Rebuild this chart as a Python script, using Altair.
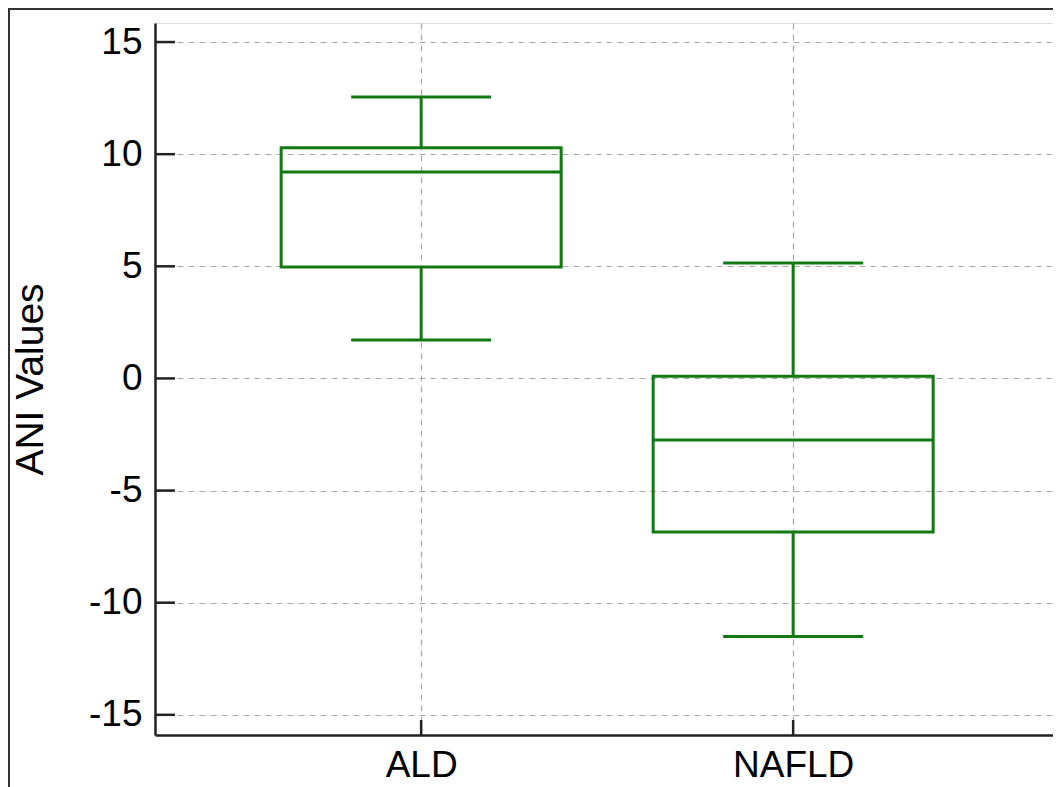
import altair as alt
import pandas as pd

groups = ["ALD", "NAFLD"]
lower = [1.71, -11.51]
q1 = [4.97, -6.85]
median = [9.21, -2.75]
q3 = [10.29, 0.10]
upper = [12.55, 5.15]
y_ticks = [-15, -10, -5, 0, 5, 10, 15]

df = pd.DataFrame({"group": groups, "lower": lower, "q1": q1,
                   "median": median, "q3": q3, "upper": upper})
tick_df = pd.DataFrame({"v": y_ticks})

GREEN = "#137a13"
DARK = "#222222"
W, H = 898, 712
PB = 56

xscale = alt.Scale(type="point", domain=groups, padding=0.707, align=0.506)
yscale = alt.Scale(domain=[-15.9, 15.85], nice=False, zero=False)

x_enc = alt.X("group:N", scale=xscale, sort=groups,
              axis=alt.Axis(title=None, labelAngle=0, labelFontSize=37, labelColor="black",
                            labelPadding=12, tickSize=0, domainColor=DARK, domainWidth=2.5,
                            grid=True, gridDash=[6, 5], gridColor="#a8a8a8", gridWidth=1.2))
y_axis = alt.Axis(title="ANI Values", values=y_ticks, labelFontSize=37, labelColor="black",
                  labelExpr="'' + datum.value",
                  labelPadding=13, tickSize=0, domainColor=DARK, domainWidth=2.5,
                  grid=True, gridDash=[6, 5], gridColor="#a8a8a8", gridWidth=1.2,
                  titleFontSize=39, titleFontWeight="normal", titleColor="black",
                  titleAngle=-90, titleX=-125, titleY=H / 2, titleAlign="center",
                  titleBaseline="middle")

base = alt.Chart(df)

box = base.mark_bar(size=280, fill="white", fillOpacity=0, stroke=GREEN, strokeWidth=3,
                    opacity=1).encode(
    x=x_enc,
    y=alt.Y("q1:Q", scale=yscale, axis=y_axis),
    y2="q3:Q",
)
whisk_lo = base.mark_rule(color=GREEN, strokeWidth=3, opacity=1).encode(
    x=alt.X("group:N", scale=xscale), y=alt.Y("lower:Q", scale=yscale), y2="q1:Q")
whisk_hi = base.mark_rule(color=GREEN, strokeWidth=3, opacity=1).encode(
    x=alt.X("group:N", scale=xscale), y=alt.Y("q3:Q", scale=yscale), y2="upper:Q")
med = base.mark_tick(size=280, thickness=3, color=GREEN, opacity=1, orient="horizontal").encode(
    x=alt.X("group:N", scale=xscale), y=alt.Y("median:Q", scale=yscale))
cap_lo = base.mark_tick(size=140, thickness=3, color=GREEN, opacity=1, orient="horizontal").encode(
    x=alt.X("group:N", scale=xscale), y=alt.Y("lower:Q", scale=yscale))
cap_hi = base.mark_tick(size=140, thickness=3, color=GREEN, opacity=1, orient="horizontal").encode(
    x=alt.X("group:N", scale=xscale), y=alt.Y("upper:Q", scale=yscale))

# inward y ticks
yt = alt.Chart(tick_df).mark_rule(color=DARK, strokeWidth=2.5).encode(
    y=alt.Y("v:Q", scale=yscale), x=alt.value(0), x2=alt.value(20))
# upward x ticks
xt = base.mark_rule(color=DARK, strokeWidth=2.5).encode(
    x=alt.X("group:N", scale=xscale), y=alt.value(H), y2=alt.value(H - 15))

# picture frame (left and top)
frame_l = alt.Chart(pd.DataFrame({"a": [0]})).mark_rule(color="#333333", strokeWidth=2).encode(
    x=alt.value(-146), y=alt.value(-15), y2=alt.value(H + PB))
frame_t = alt.Chart(pd.DataFrame({"a": [0]})).mark_rule(color="#333333", strokeWidth=2).encode(
    y=alt.value(-14), x=alt.value(-147), x2=alt.value(W))

chart = alt.layer(box, whisk_lo, whisk_hi, med, cap_lo, cap_hi, yt, xt, frame_l, frame_t).properties(
    width=W, height=H,
    autosize=alt.AutoSizeParams(type="none"),
    padding={"left": 147, "top": 15, "right": 0, "bottom": PB},
    background="white",
).configure_view(stroke=None).configure(font="Liberation Sans")

chart.save("out.html", embed_options={"renderer": "svg", "actions": False})
